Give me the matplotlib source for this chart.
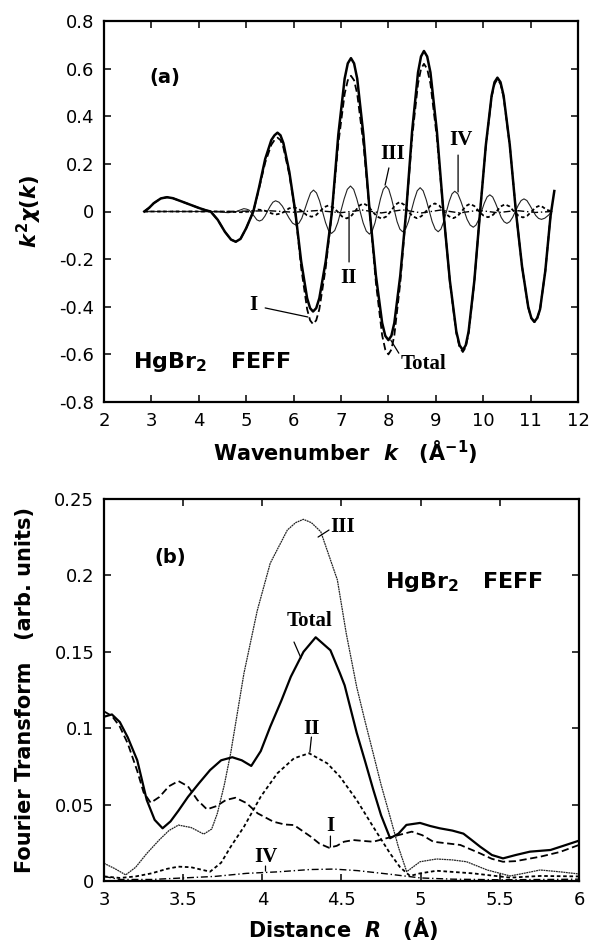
import matplotlib
matplotlib.use("Agg")
import matplotlib.pyplot as plt
from matplotlib.ticker import FuncFormatter

plt.rcParams['font.family'] = ['DejaVu Sans']
plt.rcParams['axes.unicode_minus'] = False
plt.rcParams['mathtext.fontset'] = 'custom'
plt.rcParams['mathtext.rm'] = 'DejaVu Sans:bold'
plt.rcParams['mathtext.it'] = 'DejaVu Sans:italic:bold'
plt.rcParams['mathtext.bf'] = 'DejaVu Sans:bold'

# ---------------- panel (a) data: k^2 chi(k) ----------------
tot_k = [2.85, 2.95, 3.05, 3.2, 3.33, 3.45, 3.6, 3.8, 4.0, 4.15,
         4.25, 4.4, 4.55, 4.68, 4.78, 4.88, 5.0, 5.15, 5.27, 5.4,
         5.53, 5.597, 5.66, 5.723, 5.785, 5.91, 6.035, 6.16, 6.285, 6.348,
         6.41, 6.477, 6.543, 6.677, 6.81, 6.943, 7.077, 7.143, 7.21, 7.276,
         7.342, 7.473, 7.605, 7.737, 7.868, 7.934, 8.0, 8.063, 8.125, 8.25,
         8.375, 8.5, 8.625, 8.688, 8.75, 8.818, 8.887, 9.023, 9.16, 9.297,
         9.433, 9.502, 9.57, 9.631, 9.692, 9.813, 9.935, 10.057, 10.178, 10.239,
         10.3, 10.365, 10.43, 10.56, 10.69, 10.82, 10.95, 11.015, 11.08, 11.14,
         11.2, 11.31, 11.42, 11.5]
tot_v = [0.0, 0.015, 0.035, 0.055, 0.06, 0.056, 0.045, 0.03, 0.015, 0.005,
         0.0, -0.035, -0.085, -0.118, -0.127, -0.115, -0.07, 0.0, 0.1, 0.22,
         0.3, 0.32, 0.331, 0.32, 0.287, 0.166, 0.0, -0.21, -0.364, -0.406,
         -0.42, -0.406, -0.364, -0.21, 0.0, 0.322, 0.558, 0.622, 0.644, 0.622,
         0.558, 0.322, 0.0, -0.27, -0.468, -0.522, -0.54, -0.522, -0.468, -0.27,
         0.0, 0.337, 0.584, 0.651, 0.674, 0.651, 0.584, 0.337, 0.0, -0.291,
         -0.504, -0.562, -0.582, -0.562, -0.504, -0.291, 0.0, 0.281, 0.487, 0.543,
         0.562, 0.543, 0.487, 0.281, 0.0, -0.232, -0.401, -0.447, -0.463, -0.447,
         -0.41, -0.25, -0.02, 0.086]

shellI_k = tot_k[:-1]
shellI_v = [0.0, 0.015, 0.035, 0.055, 0.06, 0.056, 0.045, 0.03, 0.015, 0.005,
            0.0, -0.035, -0.085, -0.118, -0.127, -0.115, -0.07, 0.0, 0.095, 0.205,
            0.28, 0.30, 0.31, 0.30, 0.268, 0.155, 0.0, -0.237, -0.41, -0.457,
            -0.473, -0.457, -0.41, -0.237, 0.0, 0.285, 0.494, 0.551, 0.57, 0.551,
            0.494, 0.285, 0.0, -0.30, -0.52, -0.58, -0.60, -0.58, -0.52, -0.30,
            0.0, 0.31, 0.537, 0.599, 0.62, 0.599, 0.537, 0.31, 0.0, -0.295,
            -0.511, -0.57, -0.59, -0.57, -0.511, -0.295, 0.0, 0.278, 0.481, 0.536,
            0.555, 0.536, 0.481, 0.278, 0.0, -0.233, -0.403, -0.449, -0.465, -0.449,
            -0.41, -0.25, -0.02]

shellII_k = [2.85, 4.5, 4.9, 5.075, 5.25, 5.35, 5.445, 5.54, 5.64, 5.73,
             5.815, 5.90, 5.99, 6.09, 6.185, 6.28, 6.38, 6.47, 6.555, 6.64,
             6.73, 6.83, 6.925, 7.02, 7.12, 7.207, 7.295, 7.382, 7.47, 7.567,
             7.665, 7.762, 7.86, 7.955, 8.05, 8.145, 8.24, 8.33, 8.42, 8.51,
             8.6, 8.695, 8.79, 8.885, 8.98, 9.077, 9.175, 9.272, 9.37, 9.457,
             9.545, 9.632, 9.72, 9.815, 9.91, 10.005, 10.1, 10.19, 10.28, 10.37,
             10.46, 10.555, 10.65, 10.745, 10.84, 10.93, 11.02, 11.11, 11.2, 11.265,
             11.33, 11.45]
shellII_v = [0.0, 0.0, -0.003, 0.0, 0.008, 0.0057, 0.0, -0.0085, -0.012, -0.0085,
             0.0, 0.0128, 0.018, 0.0128, 0.0, -0.0156, -0.022, -0.0156, 0.0, 0.0178,
             0.025, 0.0178, 0.0, -0.0206, -0.029, -0.0206, 0.0, 0.024, 0.034, 0.024,
             0.0, -0.0213, -0.03, -0.0213, 0.0, 0.0284, 0.04, 0.0284, 0.0, -0.0199,
             -0.028, -0.0199, 0.0, 0.0241, 0.034, 0.0241, 0.0, -0.0199, -0.028, -0.0199,
             0.0, 0.0227, 0.032, 0.0227, 0.0, -0.017, -0.024, -0.017, 0.0, 0.0213,
             0.03, 0.0213, 0.0, -0.0178, -0.025, -0.0178, 0.0, 0.0178, 0.025, 0.0178,
             0.008, 0.0]

shellIII_k = [2.85, 4.3, 4.62, 4.79, 4.95, 5.005, 5.06, 5.17, 5.225, 5.28,
              5.337, 5.393, 5.507, 5.563, 5.62, 5.692, 5.763, 5.907, 5.978, 6.05,
              6.112, 6.173, 6.297, 6.358, 6.42, 6.483, 6.547, 6.673, 6.737, 6.8,
              6.867, 6.933, 7.067, 7.133, 7.2, 7.267, 7.333, 7.467, 7.533, 7.6,
              7.658, 7.717, 7.833, 7.892, 7.95, 8.008, 8.067, 8.183, 8.242, 8.3,
              8.362, 8.423, 8.547, 8.608, 8.67, 8.733, 8.797, 8.923, 8.987, 9.05,
              9.108, 9.167, 9.283, 9.342, 9.4, 9.465, 9.53, 9.66, 9.725, 9.79,
              9.848, 9.907, 10.023, 10.082, 10.14, 10.2, 10.26, 10.38, 10.44, 10.5,
              10.56, 10.62, 10.74, 10.8, 10.86, 10.922, 10.983, 11.107, 11.168, 11.23,
              11.3, 11.38, 11.45]
shellIII_v = [0.0, 0.0, -0.005, 0.0, 0.012, 0.010, 0.006, -0.02, -0.035, -0.04,
              -0.035, -0.02, 0.0225, 0.039, 0.045, 0.039, 0.0225, -0.0285, -0.049, -0.057,
              -0.049, -0.0285, 0.045, 0.078, 0.09, 0.078, 0.045, -0.046, -0.080, -0.092,
              -0.080, -0.046, 0.0535, 0.093, 0.107, 0.093, 0.0535, -0.0475, -0.082, -0.095,
              -0.082, -0.0475, 0.0535, 0.093, 0.107, 0.093, 0.0535, -0.0425, -0.074, -0.085,
              -0.074, -0.0425, 0.05, 0.087, 0.1, 0.087, 0.05, -0.0425, -0.074, -0.085,
              -0.074, -0.0425, 0.0425, 0.074, 0.085, 0.074, 0.0425, -0.033, -0.057, -0.066,
              -0.057, -0.033, 0.035, 0.061, 0.07, 0.061, 0.035, -0.025, -0.043, -0.05,
              -0.043, -0.025, 0.0265, 0.046, 0.053, 0.046, 0.0265, -0.0165, -0.029, -0.033,
              -0.028, -0.015, 0.0]

shellIV_k = [2.85, 4.5, 5.5, 6.0, 6.5, 7.0, 7.45, 7.85, 8.3, 8.7, 9.1, 9.5, 9.9,
             10.3, 10.7, 11.1, 11.45]
shellIV_v = [0.0, 0.0, 0.003, -0.003, 0.004, -0.005, 0.006, -0.006, 0.007, -0.006,
             0.006, -0.006, 0.005, -0.005, 0.004, -0.004, 0.0]

# ---------------- panel (b) data: Fourier transform ----------------
ftot_R = [3.0, 3.05, 3.1, 3.15, 3.21, 3.27, 3.32, 3.37, 3.42, 3.47,
          3.53, 3.6, 3.67, 3.74, 3.81, 3.87, 3.93, 3.99, 4.05, 4.12,
          4.18, 4.26, 4.337, 4.43, 4.49, 4.52, 4.596, 4.65, 4.70, 4.75,
          4.807, 4.86, 4.91, 4.996, 5.06, 5.12, 5.2, 5.27, 5.32, 5.375,
          5.45, 5.52, 5.6, 5.69, 5.82, 5.9, 6.0]
ftot_v = [0.1075, 0.109, 0.104, 0.094, 0.079, 0.053, 0.04, 0.0345, 0.039, 0.046,
          0.055, 0.064, 0.0726, 0.079, 0.081, 0.079, 0.0753, 0.085, 0.101, 0.118,
          0.1337, 0.150, 0.1595, 0.151, 0.136, 0.128, 0.097, 0.078, 0.060, 0.043,
          0.028, 0.031, 0.0367, 0.038, 0.036, 0.0345, 0.033, 0.031, 0.027, 0.0225,
          0.017, 0.0148, 0.017, 0.0192, 0.0203, 0.023, 0.0264]

fI_R = [3.0, 3.05, 3.1, 3.15, 3.21, 3.25, 3.295, 3.35, 3.41, 3.47,
        3.53, 3.59, 3.65, 3.71, 3.77, 3.83, 3.9, 3.97, 4.07, 4.14,
        4.2, 4.306, 4.36, 4.42, 4.47, 4.516, 4.575, 4.64, 4.70, 4.807,
        4.944, 5.01, 5.08, 5.25, 5.375, 5.45, 5.52, 5.6, 5.755, 5.88, 6.0]
fI_v = [0.111, 0.108, 0.101, 0.09, 0.072, 0.058, 0.0512, 0.055, 0.062, 0.0654,
        0.062, 0.053, 0.0469, 0.049, 0.053, 0.0545, 0.051, 0.0443, 0.0388, 0.037,
        0.0366, 0.029, 0.0245, 0.0218, 0.023, 0.0257, 0.0268, 0.0262, 0.0257, 0.0286,
        0.0323, 0.030, 0.0257, 0.0236, 0.0181, 0.0145, 0.0126, 0.013, 0.0159, 0.019, 0.0236]

fII_R = [3.0, 3.1, 3.2, 3.3, 3.4, 3.47, 3.55, 3.67, 3.74, 3.8,
         3.884, 3.99, 4.095, 4.2, 4.295, 4.41, 4.49, 4.596, 4.70, 4.807,
         4.87, 4.933, 4.996, 5.1, 5.33, 5.565, 5.755, 6.0]
fII_v = [0.003, 0.002, 0.003, 0.005, 0.008, 0.0094, 0.009, 0.0061, 0.012, 0.0224,
         0.0355, 0.0552, 0.0705, 0.0803, 0.0836, 0.077, 0.0683, 0.053, 0.0355, 0.018,
         0.009, 0.0033, 0.005, 0.0067, 0.005, 0.0022, 0.0033, 0.003]

fIII_R = [3.0, 3.07, 3.137, 3.2, 3.27, 3.35, 3.41, 3.47, 3.55, 3.63,
          3.68, 3.716, 3.76, 3.8, 3.884, 3.968, 4.05, 4.158, 4.21, 4.259,
          4.31, 4.369, 4.474, 4.53, 4.596, 4.65, 4.70, 4.75, 4.807, 4.86,
          4.912, 4.996, 5.1, 5.2, 5.29, 5.42, 5.565, 5.65, 5.755, 5.88, 6.0]
fIII_v = [0.0116, 0.008, 0.004, 0.009, 0.018, 0.027, 0.033, 0.0366, 0.035, 0.0307,
          0.034, 0.0443, 0.063, 0.0836, 0.136, 0.177, 0.208, 0.2297, 0.2345, 0.2367,
          0.2345, 0.2286, 0.197, 0.162, 0.127, 0.104, 0.0836, 0.063, 0.042, 0.022,
          0.0061, 0.0126, 0.0144, 0.0138, 0.0126, 0.0072, 0.0033, 0.005, 0.0072, 0.006, 0.0046]

fIV_R = [3.0, 3.1, 3.3, 3.5, 3.7, 3.9, 4.1, 4.3, 4.45, 4.6, 4.8, 5.0, 5.2, 5.5, 5.8, 6.0]
fIV_v = [0.003, 0.001, 0.001, 0.002, 0.003, 0.005, 0.006, 0.0075, 0.0078, 0.0068,
         0.0045, 0.002, 0.0012, 0.0008, 0.001, 0.0012]

# ticks
a_xticks = [2, 3, 4, 5, 6, 7, 8, 9, 10, 11, 12]
a_yticks = [-0.8, -0.6, -0.4, -0.2, 0, 0.2, 0.4, 0.6, 0.8]
b_xticks = [3, 3.5, 4, 4.5, 5, 5.5, 6]
b_yticks = [0, 0.05, 0.1, 0.15, 0.2, 0.25]

W, H = 592, 943
fig = plt.figure(figsize=(W / 100, H / 100), dpi=100)


def fx(px):
    return px / W


def fy(py):
    return 1 - py / H


ax1 = fig.add_axes([fx(104), fy(402), (578 - 104) / W, (402 - 21) / H])
ax2 = fig.add_axes([fx(104), fy(881), (579 - 104) / W, (881 - 499) / H])

fmt = FuncFormatter(lambda v, p: ('%g' % round(v, 4)))

for ax in (ax1, ax2):
    for s in ax.spines.values():
        s.set_linewidth(1.6)
    ax.tick_params(direction='in', length=5, width=1.1, top=True, right=True,
                   labelsize=13, pad=7)
    ax.xaxis.set_major_formatter(fmt)
    ax.yaxis.set_major_formatter(fmt)

# ---- panel a ----
ax1.plot(shellIV_k, shellIV_v, color='black', lw=1.0, ls=(0, (5, 2, 1, 2)))
ax1.plot(shellIII_k, shellIII_v, color='#222222', lw=0.8)
ax1.plot(shellII_k, shellII_v, color='black', lw=1.3, ls=(0, (2, 1.5)))
ax1.plot(shellI_k, shellI_v, color='black', lw=1.3, ls=(0, (4, 2)))
ax1.plot(tot_k, tot_v, color='black', lw=1.8)
ax1.set_xlim(2, 12)
ax1.set_ylim(-0.8, 0.8)
ax1.set_xticks(a_xticks)
ax1.set_yticks(a_yticks)

serif = dict(family='Liberation Serif', fontweight='bold', fontsize=15)
lp = dict(arrowstyle='-', color='black', lw=0.9, shrinkA=0, shrinkB=0)
ax1.text(3.29, 0.561, '(a)', fontsize=14, fontweight='bold', ha='center', va='center')
ax1.text(2.61, -0.632, 'HgBr$_2$   FEFF', fontsize=16, fontweight='bold', ha='left', va='center')
ax1.text(8.08, 0.242, 'III', ha='center', va='center', **serif)
ax1.annotate('', xy=(7.93, 0.111), xytext=(8.01, 0.183), arrowprops=lp)
ax1.text(9.53, 0.30, 'IV', ha='center', va='center', **serif)
ax1.annotate('', xy=(9.47, 0.082), xytext=(9.47, 0.237), arrowprops=lp)
ax1.text(7.15, -0.279, 'II', ha='center', va='center', **serif)
ax1.annotate('', xy=(7.17, -0.006), xytext=(7.17, -0.212), arrowprops=lp)
ax1.text(5.16, -0.393, 'I', ha='center', va='center', **serif)
ax1.annotate('', xy=(6.30, -0.443), xytext=(5.40, -0.405), arrowprops=lp)
ax1.text(8.75, -0.641, 'Total', ha='center', va='center', **serif)
ax1.annotate('', xy=(8.05, -0.54), xytext=(8.22, -0.595), arrowprops=lp)

# ---- panel b ----
ax2.plot(fIV_R, fIV_v, color='black', lw=1.0, ls=(0, (5, 2, 1, 2)))
ax2.plot(fIII_R, fIII_v, color='#222222', lw=0.9, ls=(0, (1.5, 0.5)))
ax2.plot(fII_R, fII_v, color='black', lw=1.3, ls=(0, (2, 1.5)))
ax2.plot(fI_R, fI_v, color='black', lw=1.3, ls=(0, (4, 2)))
ax2.plot(ftot_R, ftot_v, color='black', lw=1.6)
ax2.set_xlim(3, 6)
ax2.set_ylim(0, 0.25)
ax2.set_xticks(b_xticks)
ax2.set_yticks(b_yticks)

ax2.text(3.42, 0.212, '(b)', fontsize=14, fontweight='bold', ha='center', va='center')
ax2.text(4.775, 0.1957, 'HgBr$_2$   FEFF', fontsize=16, fontweight='bold', ha='left', va='center')
ax2.text(4.51, 0.2317, 'III', ha='center', va='center', **serif)
ax2.annotate('', xy=(4.352, 0.2251), xytext=(4.421, 0.2297), arrowprops=lp)
ax2.text(4.30, 0.170, 'Total', ha='center', va='center', **serif)
ax2.annotate('', xy=(4.244, 0.1459), xytext=(4.20, 0.1564), arrowprops=lp)
ax2.text(4.31, 0.0995, 'II', ha='center', va='center', **serif)
ax2.annotate('', xy=(4.30, 0.0844), xytext=(4.31, 0.0942), arrowprops=lp)
ax2.text(4.43, 0.036, 'I', ha='center', va='center', **serif)
ax2.annotate('', xy=(4.43, 0.0222), xytext=(4.43, 0.0294), arrowprops=lp)
ax2.text(4.02, 0.0157, 'IV', ha='center', va='center', **serif)
ax2.annotate('', xy=(4.02, 0.0065), xytext=(4.02, 0.0098), arrowprops=lp)

# axis labels
fig.text(fx(345), fy(452), 'Wavenumber  $k$   (Å$^{-1}$)', fontsize=15, fontweight='bold',
         ha='center', va='center')
fig.text(fx(29), fy(211.5), '$k^2\\chi(k)$', fontsize=15, rotation=90,
         ha='center', va='center')
fig.text(fx(343), fy(929), 'Distance  $R$   (Å)', fontsize=15, fontweight='bold',
         ha='center', va='center')
fig.text(fx(25), fy(690), 'Fourier Transform   (arb. units)', fontsize=15, fontweight='bold',
         rotation=90, ha='center', va='center')

fig.savefig('out.png', dpi=100)
